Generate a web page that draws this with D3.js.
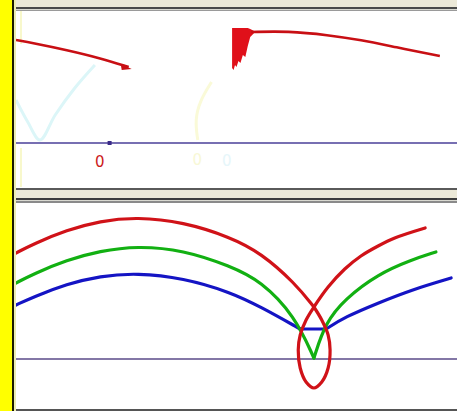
<!DOCTYPE html>
<html><head><meta charset="utf-8">
<script src="https://cdn.jsdelivr.net/npm/d3@7"></script>
<style>body{margin:0;background:#fff;overflow:hidden}svg{display:block}</style>
</head><body>
<svg id="c" width="457" height="411"></svg>
<script>
// ---- data (x in horizontal units, y in units above the purple base line) ----
// top panel
const topRedA_x = [0, 0.35, 1.04, 1.71, 2.30];
const topRedA_y = [2.06, 2.00, 1.86, 1.70, 1.52];
const topRedB_x = [4.80, 5.55, 6.37, 7.04, 7.73, 8.65];
const topRedB_y = [2.22, 2.24, 2.16, 2.06, 1.92, 1.74];
const topFill_x = [4.41, 4.44, 4.47, 4.50, 4.54, 4.58, 4.63, 4.68, 4.73, 4.78, 4.86];
const topFill_hi = [2.30, 2.30, 2.30, 2.30, 2.30, 2.30, 2.30, 2.30, 2.30, 2.28, 2.24];
const topFill_lo = [1.50, 1.46, 1.56, 1.52, 1.64, 1.60, 1.76, 1.72, 1.94, 2.12, 2.20];
const ghostCyan_x = [0, 0.24, 0.49, 0.80, 1.20, 1.61];
const ghostCyan_y = [0.86, 0.42, 0.06, 0.56, 1.10, 1.56];
const ghostYellow_x = [3.99, 3.76, 3.65, 3.71];
const ghostYellow_y = [1.22, 0.86, 0.46, 0.06];
const topMarker = {x: 1.90, y: 0};
const topLabels = [{t: "0", x: 1.71, y: -0.38, c: "#cc1a1a"}, {t: "0", x: 3.70, y: -0.34, c: "#f8f8d6"}, {t: "0", x: 4.30, y: -0.36, c: "#e6f6fa"}];

// bottom panel: each series given as branches of points
const redBranches = [
  { x: [0, 0.35, 1.04, 1.71, 2.47, 3.41, 4.37, 5.00, 5.69, 6.08],
    y: [2.12, 2.30, 2.58, 2.76, 2.84, 2.74, 2.44, 2.12, 1.52, 1.04] },
  { x: [6.08, 6.24, 6.37, 6.41, 6.37, 6.24, 6.08, 5.92, 5.80, 5.76, 5.80, 5.92, 6.08, 6.37, 6.71, 7.04, 7.39, 7.73, 8.35],
    y: [1.04, 0.78, 0.48, 0.18, -0.18, -0.46, -0.58, -0.46, -0.18, 0.18, 0.48, 0.78, 1.04, 1.44, 1.80, 2.06, 2.26, 2.42, 2.62] }
];
const greenBranches = [
  { x: [0, 0.35, 1.04, 1.71, 2.47, 3.41, 4.37, 5.00, 5.69, 6.08], y: [1.52, 1.70, 1.98, 2.16, 2.26, 2.18, 1.86, 1.56, 0.86, 0.02] },
  { x: [6.08, 6.31, 6.71, 7.39, 8.06, 8.57], y: [0.02, 0.72, 1.20, 1.70, 1.98, 2.14] }
];
const blueBranches = [
  { x: [0, 0.35, 1.04, 1.71, 2.47, 3.41, 4.37, 5.00, 5.80], y: [1.08, 1.24, 1.50, 1.66, 1.72, 1.62, 1.34, 1.04, 0.60] },
  { x: [5.80, 6.33], y: [0.60, 0.60] },
  { x: [6.33, 6.71, 7.39, 8.06, 8.88], y: [0.60, 0.84, 1.12, 1.38, 1.62] }
];

// ---- layout ----
const svg = d3.select("#c");
const W = 457, H = 411;
const band = (y, h, c, x0 = 0, w = W) => svg.append("rect").attr("x", x0).attr("y", y).attr("width", w).attr("height", h).attr("fill", c);
band(0, H, "#ffffff");
band(0, 7, "#ece9d8");
band(7, 2, "#4a4a4a");
band(9, 1, "#d8d8d0");
band(10, 1, "#9a9a9a");
band(188, 2, "#5a5a5a");
band(190, 8, "#ece9d8");
band(198, 2, "#3c3c3c");
band(200, 1, "#d8d8d0");
band(201, 2, "#8a8a8a");
band(409, 2, "#555555");
svg.append("rect").attr("x", 0).attr("y", 0).attr("width", 12).attr("height", H).attr("fill", "#ffff00");
svg.append("rect").attr("x", 12).attr("y", 0).attr("width", 2).attr("height", H).attr("fill", "#1a1a00");
svg.append("rect").attr("x", 14).attr("y", 0).attr("width", 2).attr("height", H).attr("fill", "#ececb0");

const x = d3.scaleLinear().domain([0, 9]).range([16, 457]);
const yTop = d3.scaleLinear().domain([-0.9, 2.64]).range([188, 11]);
const yBot = d3.scaleLinear().domain([-1, 3.12]).range([409, 203]);

const zip = (xs, ys) => xs.map((v, i) => [v, ys[i]]);
const monotone = xs => xs.every((v, i) => i === 0 || v >= xs[i - 1]);

// ---- top panel ----
const gT = svg.append("g");
gT.append("clipPath").attr("id", "ct").append("rect").attr("x", 16).attr("y", 11).attr("width", W - 16).attr("height", 177);
const pT = gT.append("g").attr("clip-path", "url(#ct)");
const lineT = d3.line().x(d => x(d[0])).y(d => yTop(d[1])).curve(d3.curveBasis);

// ghost traces
pT.append("line").attr("x1", 21).attr("x2", 21).attr("y1", 11).attr("y2", 44).attr("stroke", "#f8f8cc").attr("stroke-width", 2);
pT.append("line").attr("x1", 21).attr("x2", 21).attr("y1", 148).attr("y2", 187).attr("stroke", "#f8f8cc").attr("stroke-width", 2);
pT.append("path").attr("d", d3.line().x(d => x(d[0])).y(d => yTop(d[1])).curve(d3.curveCatmullRom)(zip(ghostCyan_x, ghostCyan_y))).attr("fill", "none").attr("stroke", "#dcf6f8").attr("stroke-width", 3);
pT.append("path").attr("d", lineT(zip(ghostYellow_x, ghostYellow_y))).attr("fill", "none").attr("stroke", "#fafad8").attr("stroke-width", 3);

// base line
pT.append("line").attr("x1", 16).attr("x2", W).attr("y1", yTop(0)).attr("y2", yTop(0)).attr("stroke", "#4a3f98").attr("stroke-width", 1.6);

// red traces
pT.append("path").attr("d", lineT(zip(topRedA_x, topRedA_y))).attr("fill", "none").attr("stroke", "#c80f14").attr("stroke-width", 2.6);
const endA = [topRedA_x[topRedA_x.length - 1], topRedA_y[topRedA_y.length - 1]];
pT.append("path").attr("d", `M${x(endA[0]) - 8},${yTop(endA[1]) - 3} L${x(endA[0]) + 3},${yTop(endA[1]) + 2} L${x(endA[0]) - 7},${yTop(endA[1]) + 3}Z`).attr("fill", "#c80f14");
const area = d3.area().x(d => x(d[0])).y0(d => yTop(d[2])).y1(d => yTop(d[1])).curve(d3.curveLinear);
pT.append("path").attr("d", area(topFill_x.map((v, i) => [v, topFill_hi[i], topFill_lo[i]]))).attr("fill", "#e0101a");
pT.append("path").attr("d", lineT(zip(topRedB_x, topRedB_y))).attr("fill", "none").attr("stroke", "#c80f14").attr("stroke-width", 2.6);

// marker + labels
pT.append("rect").attr("x", x(topMarker.x) - 1.5).attr("y", yTop(topMarker.y) - 2).attr("width", 4).attr("height", 4).attr("fill", "#3a2a88");
pT.selectAll("text.lbl").data(topLabels).join("text").attr("class", "lbl")
  .attr("x", d => x(d.x)).attr("y", d => yTop(d.y)).attr("text-anchor", "middle").attr("dominant-baseline", "middle")
  .attr("font-family", "DejaVu Sans, sans-serif").attr("font-size", 15).attr("fill", d => d.c).text(d => d.t);

// ---- bottom panel ----
const gB = svg.append("g");
gB.append("clipPath").attr("id", "cb").append("rect").attr("x", 16).attr("y", 203).attr("width", W - 16).attr("height", 206);
const pB = gB.append("g").attr("clip-path", "url(#cb)");
const lineBasis = d3.line().x(d => x(d[0])).y(d => yBot(d[1])).curve(d3.curveBasis);
const lineCR = d3.line().x(d => x(d[0])).y(d => yBot(d[1])).curve(d3.curveCatmullRom);

pB.append("line").attr("x1", 16).attr("x2", W).attr("y1", yBot(0)).attr("y2", yBot(0)).attr("stroke", "#5a4a88").attr("stroke-width", 1.6);

const series = [
  {b: blueBranches, c: "#1414c4"},
  {b: greenBranches, c: "#12b012"},
  {b: redBranches, c: "#d01218"}
];
series.forEach(s => {
  s.b.forEach(br => {
    const gen = monotone(br.x) ? lineBasis : lineCR;
    pB.append("path").attr("d", gen(zip(br.x, br.y))).attr("fill", "none")
      .attr("stroke", s.c).attr("stroke-width", 3.2).attr("stroke-linejoin", "round").attr("stroke-linecap", "round");
  });
});
</script>
</body></html>
